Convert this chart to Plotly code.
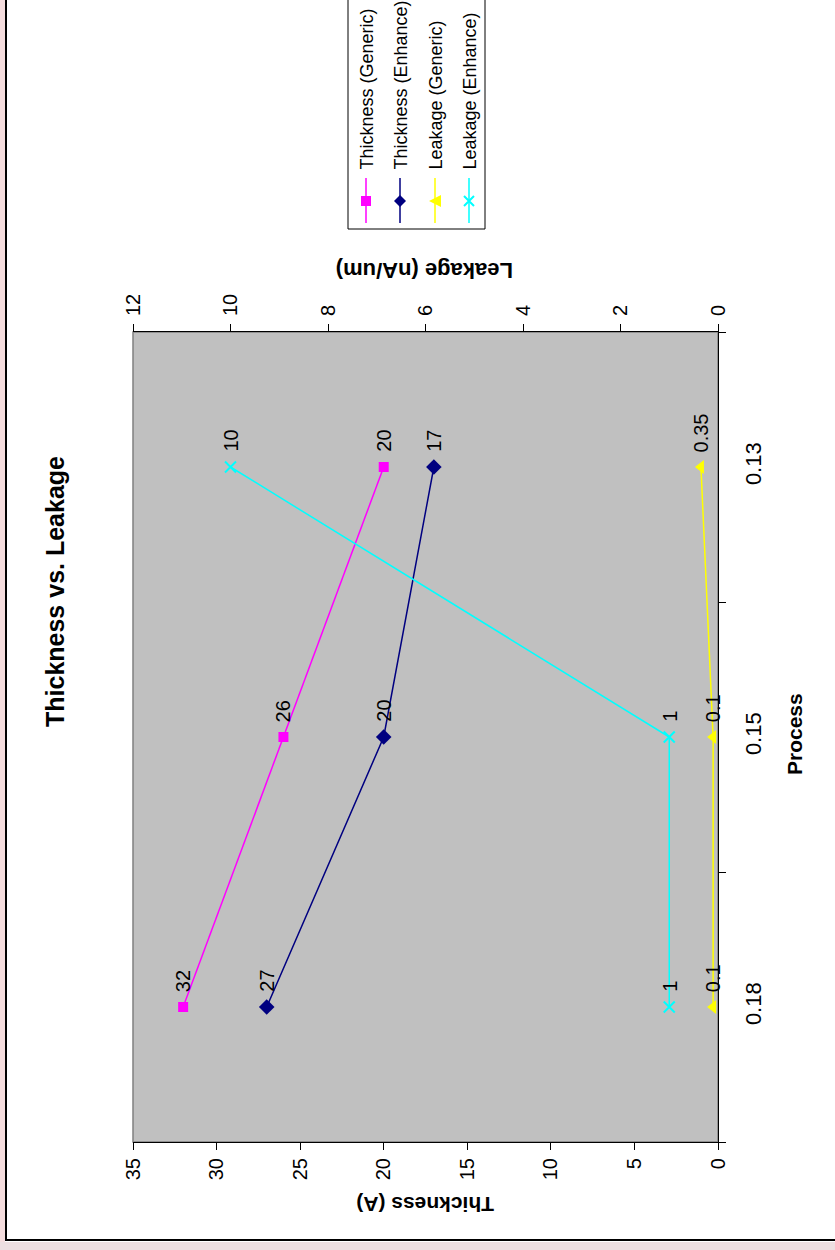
import plotly.graph_objects as go

# ---- data -------------------------------------------------------------
PROCESS = ["0.18", "0.15", "0.13"]
THICKNESS_GENERIC = [32, 26, 20]
THICKNESS_ENHANCE = [27, 20, 17]
LEAKAGE_GENERIC = [0.1, 0.1, 0.35]
LEAKAGE_ENHANCE = [1, 1, 10]

SERIES_NAMES = ["Thickness (Generic)", "Thickness (Enhance)",
                "Leakage (Generic)", "Leakage (Enhance)"]
SERIES_VALUES = [THICKNESS_GENERIC, THICKNESS_ENHANCE,
                 LEAKAGE_GENERIC, LEAKAGE_ENHANCE]

THICKNESS_RANGE = [35, 0]
LEAKAGE_RANGE = [12, 0]

# ---- styling ----------------------------------------------------------
FONT = "Liberation Sans, Arial, sans-serif"
STYLES = [
    dict(axis="x", color="#FF00FF", symbol="square", size=10, path="M -5 -5 L 5 -5 L 5 5 L -5 5 Z"),
    dict(axis="x", color="#000080", symbol="diamond", size=12, path="M -6 0 L 0 6 L 6 0 L 0 -6 Z"),
    dict(axis="x2", color="#FFFF00", symbol="triangle-left", size=12, path="M -6 0 L 6 6 L 6 -6 Z"),
    dict(axis="x2", color="#00FFFF", symbol="x-thin", size=11, path="M -5 -5 L 5 5 M -5 5 L 5 -5"),
]

W, H = 835, 1250
L, R, T, B = 133, 718, 332, 1142          # plot area in pixels


def px(xp):
    return (xp - L) / (R - L)


def py(yp):
    return (B - yp) / (B - T)


fig = go.Figure()

for name, vals, st in zip(SERIES_NAMES, SERIES_VALUES, STYLES):
    is_x = st["symbol"] == "x-thin"
    fig.add_trace(go.Scatter(
        x=vals, y=PROCESS, name=name, xaxis=st["axis"], yaxis="y",
        mode="lines+markers",
        line=dict(color=st["color"], width=1.5),
        marker=dict(symbol=st["symbol"], size=st["size"], color=st["color"],
                    line=dict(color=st["color"], width=2 if is_x else 0)),
        showlegend=False,
    ))
    # value labels, rotated to read upward
    for i, v in enumerate(vals):
        fig.add_annotation(
            x=v, y=i, xref=st["axis"], yref="y", text=f"{v:g}",
            textangle=-90, showarrow=False, xanchor="center", yanchor="bottom",
            yshift=13, font=dict(size=20, color="black", family=FONT),
        )

tick_common = dict(ticks="outside", ticklen=7, tickwidth=1, tickcolor="black",
                   showline=True, linecolor="black", linewidth=1,
                   showgrid=False, zeroline=False)
inner_ticks = dict(ticks="inside", ticklen=6, tickwidth=1, tickcolor="black",
                   showline=False, showgrid=False, zeroline=False,
                   showticklabels=False)

fig.update_layout(
    width=W, height=H,
    margin=dict(l=L, r=W - R, t=T, b=H - B, autoexpand=False),
    paper_bgcolor="white", plot_bgcolor="#C0C0C0",
    font=dict(family=FONT, color="black"),
    showlegend=False,
    xaxis=dict(range=THICKNESS_RANGE, tick0=0, dtick=5, tickangle=-90,
               tickfont=dict(size=20), ticklabelstandoff=0, anchor="y",
               **tick_common),
    xaxis2=dict(range=LEAKAGE_RANGE, tick0=0, dtick=2, tickangle=-90,
                tickfont=dict(size=20), ticklabelstandoff=4,
                overlaying="x", side="top", anchor="y", **tick_common),
    xaxis3=dict(range=THICKNESS_RANGE, tick0=0, dtick=5, overlaying="x",
                side="bottom", anchor="y", **inner_ticks),
    xaxis4=dict(range=LEAKAGE_RANGE, tick0=0, dtick=2, overlaying="x",
                side="top", anchor="y", **inner_ticks),
    yaxis=dict(type="category", categoryorder="array", categoryarray=PROCESS,
               range=[-0.5, len(PROCESS) - 0.5], side="right", anchor="x",
               tickson="boundaries", tickangle=-90, tickfont=dict(size=22),
               ticklabelstandoff=16, **tick_common),
    yaxis2=dict(range=[-0.5, len(PROCESS) - 0.5], overlaying="y", side="right",
                anchor="x", tickmode="array",
                tickvals=[k - 0.5 for k in range(len(PROCESS) + 1)],
                **inner_ticks),
)

shapes = []
# plot area fill with grey frame
shapes.append(dict(type="rect", xref="paper", yref="paper", x0=0, x1=1, y0=0, y1=1,
                   fillcolor="#C0C0C0", line=dict(color="#808080", width=1.5),
                   layer="below"))
# backdrop outside the chart frame
shapes.append(dict(type="rect", xref="paper", yref="paper", x0=px(-2), x1=px(5),
                   y0=py(H + 2), y1=py(-2), fillcolor="#F4DCDD", line=dict(width=0),
                   layer="below"))
shapes.append(dict(type="rect", xref="paper", yref="paper", x0=px(-2), x1=px(W + 2),
                   y0=py(H + 2), y1=py(1242), fillcolor="#EDDFE1", line=dict(width=0),
                   layer="below"))
# chart frame
shapes.append(dict(type="line", xref="paper", yref="paper", x0=px(6), x1=px(6),
                   y0=py(1241), y1=py(-2), line=dict(color="black", width=2)))
shapes.append(dict(type="line", xref="paper", yref="paper", x0=px(6), x1=px(W + 2),
                   y0=py(1240), y1=py(1240), line=dict(color="black", width=2)))

# legend box
LEG_X0, LEG_X1, LEG_Y1 = 348, 485, 229
LEG_XS = [366, 400, 435, 469]
shapes.append(dict(type="rect", xref="paper", yref="paper", x0=px(LEG_X0), x1=px(LEG_X1),
                   y0=py(LEG_Y1), y1=py(-3), fillcolor="white",
                   line=dict(color="black", width=1)))
for name, st, lx in zip(SERIES_NAMES, STYLES, LEG_XS):
    shapes.append(dict(type="line", xref="paper", yref="paper", x0=px(lx), x1=px(lx),
                       y0=py(223), y1=py(178), line=dict(color=st["color"], width=1.5)))
    is_x = st["symbol"] == "x-thin"
    shapes.append(dict(type="path", xref="paper", yref="paper",
                       xsizemode="pixel", ysizemode="pixel",
                       xanchor=px(lx), yanchor=py(201), path=st["path"],
                       fillcolor=None if is_x else st["color"],
                       line=dict(color=st["color"], width=2 if is_x else 0)))
    fig.add_annotation(x=px(lx), y=py(172), xref="paper", yref="paper", text=name,
                       textangle=-90, showarrow=False, xanchor="center",
                       yanchor="bottom", font=dict(size=18, family=FONT))

fig.update_layout(shapes=shapes)

# titles
title_common = dict(xref="paper", yref="paper", showarrow=False,
                    xanchor="center", yanchor="middle")
fig.add_annotation(x=px(55), y=py(592), text="<b>Thickness vs. Leakage</b>",
                   textangle=-90, font=dict(size=25, family=FONT), **title_common)
fig.add_annotation(x=px(794), y=py(734), text="<b>Process</b>",
                   textangle=-90, font=dict(size=21, family=FONT), **title_common)
fig.add_annotation(x=px(425), y=py(1205), text="<b>Thickness (A)</b>",
                   textangle=180, font=dict(size=21, family=FONT), **title_common)
fig.add_annotation(x=px(425), y=py(270), text="<b>Leakage (nA/um)</b>",
                   textangle=180, font=dict(size=22, family=FONT), **title_common)

fig.write_html("out.html")
